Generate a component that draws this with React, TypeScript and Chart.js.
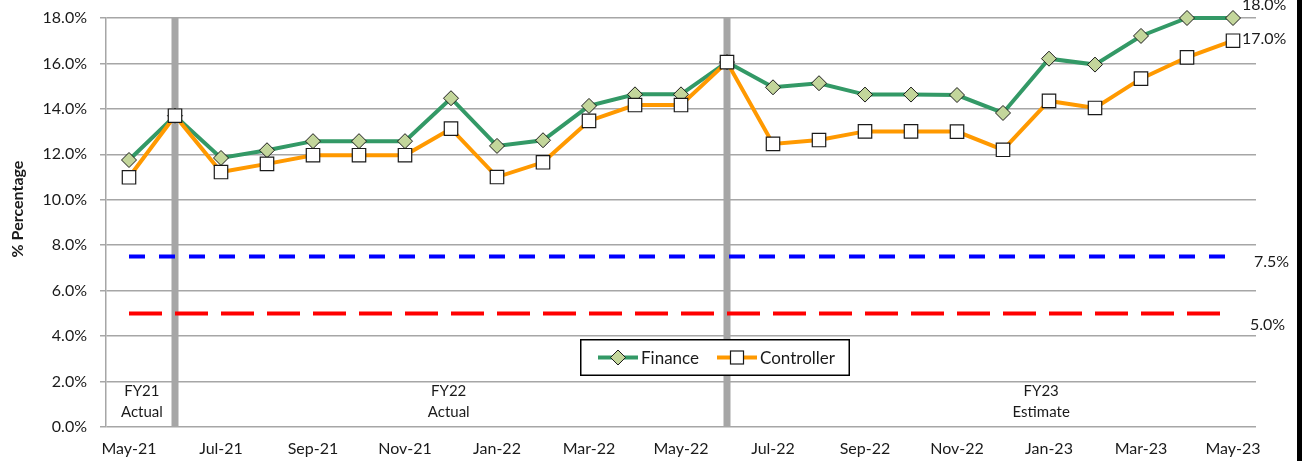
import React, { useEffect, useRef } from 'react';
import { Chart, registerables } from 'chart.js';

Chart.register(...registerables);

const months = [
  'May-21', 'Jun-21', 'Jul-21', 'Aug-21', 'Sep-21', 'Oct-21', 'Nov-21', 'Dec-21',
  'Jan-22', 'Feb-22', 'Mar-22', 'Apr-22', 'May-22', 'Jun-22', 'Jul-22', 'Aug-22',
  'Sep-22', 'Oct-22', 'Nov-22', 'Dec-22', 'Jan-23', 'Feb-23', 'Mar-23', 'Apr-23', 'May-23',
];
const finance = [
  11.75, 13.7, 11.84, 12.18, 12.58, 12.58, 12.58, 14.47, 12.37, 12.62, 14.13, 14.64, 14.64,
  16.06, 14.95, 15.13, 14.63, 14.63, 14.61, 13.82, 16.21, 15.95, 17.21, 18.0, 18.0,
];
const controller = [
  10.99, 13.7, 11.22, 11.58, 11.96, 11.96, 11.96, 13.13, 11.0, 11.65, 13.47, 14.17, 14.17,
  16.06, 12.46, 12.63, 13.01, 13.01, 13.0, 12.2, 14.35, 14.04, 15.33, 16.27, 17.0,
];
const upperTarget = 7.5;
const lowerTarget = 5.0;
const dividerMonths = ['Jun-21', 'Jun-22'];
const phaseLabels = [
  ['FY21', 'Actual'],
  ['FY22', 'Actual'],
  ['FY23', 'Estimate'],
];
const phaseAt = [0.28, 6.95, 19.83];

const FONT = 'Lato, "Open Sans", sans-serif';
const TEXT = '#1a1a1a';
const GREEN = '#339966';
const ORANGE = '#ff9900';
const GRID = '#a6a6a6';

const fmt = (v: number) => v.toFixed(1) + '%';

const overlay = {
  id: 'overlay',
  beforeDatasetsDraw(chart: any) {
    const { ctx, chartArea, scales } = chart;
    const x = scales.x;
    ctx.save();
    ctx.fillStyle = GRID;
    dividerMonths.forEach((m) => {
      const px = x.getPixelForValue(months.indexOf(m));
      ctx.fillRect(px - 3.5, chartArea.top, 7, chartArea.bottom - chartArea.top);
    });
    ctx.restore();
  },
  afterDatasetsDraw(chart: any) {
    const { ctx, chartArea, scales } = chart;
    const x = scales.x;
    const y = scales.y;
    ctx.save();
    ctx.fillStyle = TEXT;
    // phase labels
    ctx.font = `15px ${FONT}`;
    ctx.textAlign = 'center';
    ctx.textBaseline = 'middle';
    phaseLabels.forEach((lines, i) => {
      const px = x.getPixelForValue(phaseAt[i]);
      ctx.fillText(lines[0], px, chartArea.bottom - 36);
      ctx.fillText(lines[1], px, chartArea.bottom - 15);
    });
    // end value labels
    ctx.font = `16px ${FONT}`;
    ctx.textAlign = 'left';
    const last = months.length - 1;
    const lx = x.getPixelForValue(last);
    ctx.fillText(fmt(finance[last]), lx + 9, y.getPixelForValue(finance[last]) - 13);
    ctx.fillText(fmt(controller[last]), lx + 9, y.getPixelForValue(controller[last]) - 2);
    ctx.fillText(fmt(upperTarget), lx + 21, y.getPixelForValue(upperTarget) + 5);
    ctx.fillText(fmt(lowerTarget), lx + 17, y.getPixelForValue(lowerTarget) + 11);

    // legend box
    const bx = 580, by = 339, bw = 270, bh = 37;
    ctx.fillStyle = '#ffffff';
    ctx.fillRect(bx, by, bw, bh);
    ctx.strokeStyle = '#000000';
    ctx.lineWidth = 1.5;
    ctx.strokeRect(bx + 0.75, by + 0.75, bw - 1.5, bh - 1.5);
    const ly = by + 18.5;
    // finance entry
    ctx.strokeStyle = GREEN;
    ctx.lineWidth = 4;
    ctx.beginPath();
    ctx.moveTo(598, ly);
    ctx.lineTo(638, ly);
    ctx.stroke();
    ctx.beginPath();
    ctx.moveTo(618 - 7.5, ly);
    ctx.lineTo(618, ly - 7.5);
    ctx.lineTo(618 + 7.5, ly);
    ctx.lineTo(618, ly + 7.5);
    ctx.closePath();
    ctx.fillStyle = '#c3d69b';
    ctx.fill();
    ctx.strokeStyle = TEXT;
    ctx.lineWidth = 1;
    ctx.stroke();
    // controller entry
    ctx.strokeStyle = ORANGE;
    ctx.lineWidth = 4;
    ctx.beginPath();
    ctx.moveTo(717, ly);
    ctx.lineTo(757, ly);
    ctx.stroke();
    ctx.fillStyle = '#ffffff';
    ctx.fillRect(737 - 6.5, ly - 6.5, 13, 13);
    ctx.strokeStyle = TEXT;
    ctx.lineWidth = 1.2;
    ctx.strokeRect(737 - 6.5, ly - 6.5, 13, 13);
    ctx.fillStyle = TEXT;
    ctx.font = `17px ${FONT}`;
    ctx.textAlign = 'left';
    ctx.textBaseline = 'middle';
    ctx.fillText('Finance', 641, ly + 1);
    ctx.fillText('Controller', 760, ly + 1);

    // y axis title
    ctx.save();
    ctx.translate(18, 209);
    ctx.rotate(-Math.PI / 2);
    ctx.font = `bold 16px ${FONT}`;
    ctx.textAlign = 'center';
    ctx.textBaseline = 'middle';
    ctx.fillText('% Percentage', 0, 0);
    ctx.restore();

    // right edge border strip
    ctx.fillStyle = '#000000';
    ctx.fillRect(1297, 0, 5, chart.height);
    ctx.restore();
  },
};

export default function App() {
  const ref = useRef<HTMLCanvasElement | null>(null);

  useEffect(() => {
    if (!ref.current) return;
    const chart = new Chart(ref.current, {
      type: 'line',
      data: {
        labels: months,
        datasets: [
          {
            label: 'Controller',
            data: controller,
            order: 0,
            borderColor: ORANGE,
            borderWidth: 4,
            tension: 0,
            pointStyle: 'rect',
            pointRadius: 9.5,
            pointBackgroundColor: '#ffffff',
            pointBorderColor: TEXT,
            pointBorderWidth: 1.2,
            clip: false as any,
          },
          {
            label: 'Finance',
            data: finance,
            order: 1,
            borderColor: GREEN,
            borderWidth: 4,
            tension: 0,
            pointStyle: 'rectRot',
            pointRadius: 7.5,
            pointBackgroundColor: '#c3d69b',
            pointBorderColor: TEXT,
            pointBorderWidth: 1,
            clip: false as any,
          },
          {
            label: 'Upper target',
            data: [
              { x: months[0], y: upperTarget },
              { x: months[months.length - 1], y: upperTarget },
            ] as any,
            order: 2,
            borderColor: '#0000ff',
            borderWidth: 4,
            borderDash: [16, 14],
            pointRadius: 0,
          },
          {
            label: 'Lower target',
            data: [
              { x: months[0], y: lowerTarget },
              { x: months[months.length - 1], y: lowerTarget },
            ] as any,
            order: 3,
            borderColor: '#ff0000',
            borderWidth: 4,
            borderDash: [33, 13],
            pointRadius: 0,
          },
        ],
      },
      options: {
        responsive: false,
        animation: false,
        devicePixelRatio: 1,
        layout: { autoPadding: false, padding: { left: 0, right: 49, top: 18, bottom: 0 } },
        plugins: {
          legend: { display: false },
          tooltip: { enabled: false },
        },
        scales: {
          x: {
            type: 'category',
            offset: true,
            grid: { display: false },
            border: { display: false },
            ticks: {
              autoSkip: false,
              maxRotation: 0,
              padding: 4,
              color: TEXT,
              font: { family: FONT, size: 16 },
              callback: (_v: any, i: number) => (i % 2 === 0 ? months[i] : ''),
            },
            afterFit: (s: any) => {
              s.height = 34;
              s.paddingLeft = 0;
              s.paddingRight = 0;
            },
          },
          y: {
            min: 0,
            max: 18,
            ticks: {
              stepSize: 2,
              padding: 13,
              color: TEXT,
              font: { family: FONT, size: 16 },
              callback: (v: any) => fmt(Number(v)),
            },
            grid: { color: GRID, lineWidth: 1.5, tickLength: 6, drawTicks: true },
            border: { display: true, color: GRID, width: 1.5 },
            afterFit: (s: any) => {
              s.width = 106;
              s.paddingTop = 0;
              s.paddingBottom = 0;
            },
          },
        },
      },
      plugins: [overlay],
    });
    return () => chart.destroy();
  }, []);

  return (
    <div style={{ position: 'fixed', left: 0, top: 0, width: 1305, height: 461, background: '#fff' }}>
      <canvas ref={ref} width={1305} height={461} style={{ width: 1305, height: 461, display: 'block' }} />
    </div>
  );
}
